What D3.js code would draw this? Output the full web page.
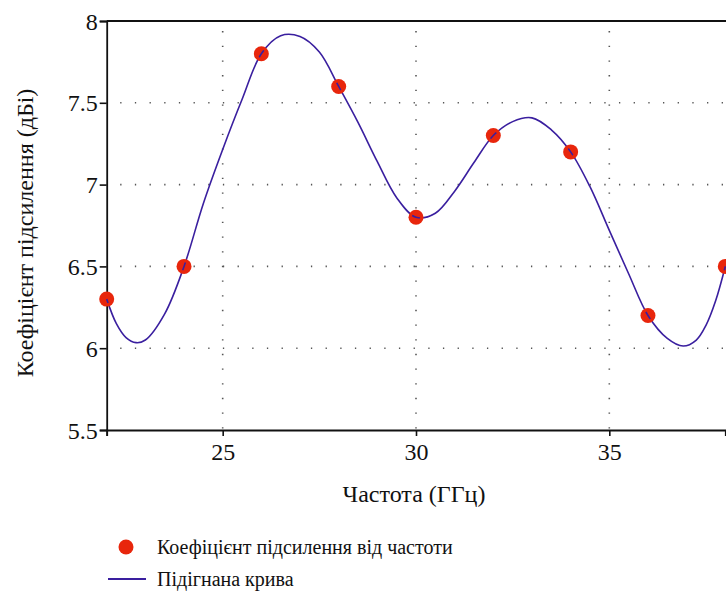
<!DOCTYPE html>
<html><head><meta charset="utf-8">
<script src="https://cdn.jsdelivr.net/npm/d3@7"></script>
<style>body{margin:0;background:#fff}svg{display:block}</style>
</head><body><svg id="c" width="726" height="592"></svg>
<script>
const freq = [22, 24, 26, 28, 30, 32, 34, 36, 38];
const gain = [6.3, 6.5, 7.8, 7.6, 6.8, 7.3, 7.2, 6.2, 6.5];
const fitFreq = [22.0, 22.25, 22.5, 22.76, 23.0, 23.5, 24.0, 24.5, 25.0, 25.5, 26.0, 26.5, 27.0, 27.5, 28.0, 28.5, 29.0, 29.5, 30.0, 30.5, 31.0, 31.5, 32.0, 32.5, 33.0, 33.5, 34.0, 34.5, 35.0, 35.5, 36.0, 36.5, 36.91, 37.25, 37.5, 37.75, 38.0];
const fitGain = [6.30, 6.15, 6.065, 6.034, 6.05, 6.21, 6.50, 6.885, 7.215, 7.52, 7.80, 7.91, 7.905, 7.81, 7.60, 7.38, 7.14, 6.92, 6.80, 6.825, 6.96, 7.135, 7.30, 7.385, 7.408, 7.335, 7.20, 6.987, 6.72, 6.455, 6.20, 6.06, 6.013, 6.05, 6.14, 6.29, 6.50];
const xTicks = [25, 30, 35];
const yTicks = [5.5, 6, 6.5, 7, 7.5, 8];
const yGrid = [6, 6.5, 7, 7.5];
const xLabel = "Частота (ГГц)";
const yLabel = "Коефіцієнт підсилення (дБі)";
const legendLabels = ["Коефіцієнт підсилення від частоти", "Підігнана крива"];

const FONT = "Liberation Serif";
const svg = d3.select("#c").attr("font-family", FONT);
const L = 106.7, R = 725.3, T = 21, B = 430;
const x = d3.scaleLinear().domain([22, 38]).range([L, R]);
const y = d3.scaleLinear().domain([5.5, 8]).range([B, T]);
const dotColor = "#e8260c", lineColor = "#3a1f9f";

// grid
const g = svg.append("g");
g.selectAll(".vg").data(xTicks).join("line")
  .attr("x1", d => x(d)).attr("x2", d => x(d)).attr("y1", B).attr("y2", T)
  .attr("stroke", "#555").attr("stroke-width", 1.6).attr("stroke-dasharray", "1.3,13.37").attr("stroke-dashoffset", 14.67 - 1.5);
g.selectAll(".hg").data(yGrid).join("line")
  .attr("x1", L).attr("x2", R).attr("y1", d => y(d)).attr("y2", d => y(d))
  .attr("stroke", "#555").attr("stroke-width", 1.6).attr("stroke-dasharray", "1.3,13.37").attr("stroke-dashoffset", -13.5);

// axes
const xa = svg.append("g").attr("transform", `translate(0,${B})`)
  .call(d3.axisBottom(x).tickValues([22].concat(xTicks)).tickSize(6).tickFormat(d => d === 22 ? "" : d));
const ya = svg.append("g").attr("transform", `translate(${L},0)`)
  .call(d3.axisLeft(y).tickValues(yTicks).tickSize(7).tickFormat(d3.format("")));
[xa, ya].forEach(a => {
  a.attr("font-family", FONT).attr("font-size", 24);
  a.select(".domain").attr("stroke", "#111").attr("stroke-width", 1.8);
  a.selectAll(".tick line").attr("stroke", "#111").attr("stroke-width", 1.6);
  a.selectAll("text").attr("fill", "#111").attr("font-family", FONT).attr("font-size", 24);
});
xa.selectAll("text").attr("dy", "0.9em").attr("y", 8);
ya.selectAll("text").attr("x", -9).attr("dy", "0.34em");
svg.append("line").attr("x1", L).attr("x2", 726).attr("y1", T).attr("y2", T).attr("stroke", "#111").attr("stroke-width", 1.8);

// curve
const line = d3.line().x((d, i) => x(fitFreq[i])).y(d => y(d)).curve(d3.curveCatmullRom.alpha(0.5));
svg.append("path").attr("d", line(fitGain)).attr("fill", "none").attr("stroke", lineColor).attr("stroke-width", 1.6);

// dots
const pts = freq.map((f, i) => ({f, v: gain[i]}));
svg.append("g").selectAll("circle").data(pts).join("circle")
  .attr("cx", d => x(d.f)).attr("cy", d => y(d.v)).attr("r", 7.5).attr("fill", dotColor);

// curve visible through dot centers
const clip = svg.append("defs").append("clipPath").attr("id", "dc");
clip.selectAll("circle").data(pts).join("circle")
  .attr("cx", d => x(d.f)).attr("cy", d => y(d.v)).attr("r", 4.2);
svg.append("path").attr("d", line(fitGain)).attr("fill", "none").attr("stroke", lineColor)
  .attr("stroke-width", 1.6).attr("clip-path", "url(#dc)");

// labels
svg.append("text").attr("x", 414).attr("y", 502).attr("text-anchor", "middle").attr("font-family", FONT).attr("font-size", 24).attr("fill", "#111").text(xLabel);
svg.append("text").attr("transform", "translate(33,233) rotate(-90)").attr("text-anchor", "middle").attr("font-family", FONT).attr("font-size", 24).attr("fill", "#111").text(yLabel);

// legend
svg.append("circle").attr("cx", 126).attr("cy", 547).attr("r", 7.5).attr("fill", dotColor);
svg.append("text").attr("x", 157).attr("y", 554).attr("font-family", FONT).attr("font-size", 20).attr("fill", "#111").text(legendLabels[0]);
svg.append("line").attr("x1", 108).attr("x2", 146).attr("y1", 579).attr("y2", 579).attr("stroke", lineColor).attr("stroke-width", 1.8);
svg.append("text").attr("x", 157).attr("y", 586).attr("font-family", FONT).attr("font-size", 20).attr("fill", "#111").text(legendLabels[1]);
</script></body></html>
